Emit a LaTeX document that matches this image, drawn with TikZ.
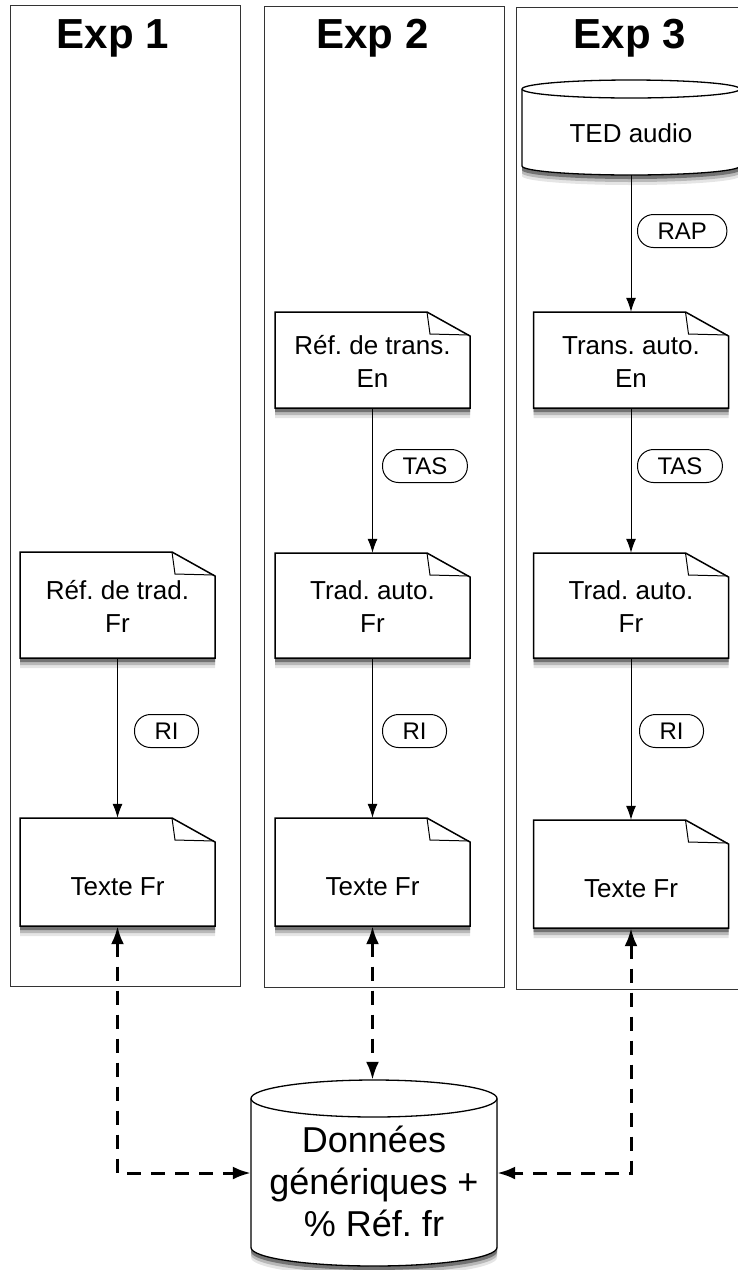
\documentclass[tikz,border=0pt]{standalone}
\usepackage{fontspec}
\setmainfont{Liberation Sans}
\usetikzlibrary{arrows.meta}

% page with a folded corner: x centre, y top, y bottom (pixels, y downwards)
\newcommand{\docpage}[3]{%
  \path[docbox] (#1-97.5,-#2) -- (#1+54.5,-#2) -- (#1+97.5,-#2-24) -- (#1+97.5,-#3) -- (#1-97.5,-#3) -- cycle;
  \draw[docfold] (#1+54.5,-#2) -- (#1+57.5,-#2-22) -- (#1+96.5,-#2-23);
}
% data store: x centre, y top, y bottom, x radius, y radius
\newcommand{\datastore}[5]{%
  \path[cylbox] (#1-#4,-#2-#5) -- (#1-#4,-#3+#5) arc[start angle=180,end angle=360,x radius=#4,y radius=#5] -- (#1+#4,-#2-#5) arc[start angle=0,end angle=180,x radius=#4,y radius=#5] -- cycle;
  \draw[cylline] (#1-#4,-#2-#5) arc[start angle=180,end angle=360,x radius=#4,y radius=#5];
}

\begin{document}
\frenchspacing
\begin{tikzpicture}[x=1pt,y=1pt]

\tikzstyle{docbox}=[draw=black, line width=1.5pt, fill=white,
  preaction={fill=black!10, transform canvas={yshift=-10pt}},
  preaction={fill=black!28, transform canvas={yshift=-7pt}},
  preaction={fill=black!55, transform canvas={yshift=-4pt}}]
\tikzstyle{docfold}=[draw=black, line width=1pt]
\tikzstyle{cylbox}=[draw=black, line width=1.3pt, fill=white,
  preaction={fill=black!10, transform canvas={yshift=-10pt}},
  preaction={fill=black!28, transform canvas={yshift=-7pt}},
  preaction={fill=black!55, transform canvas={yshift=-4pt}}]
\tikzstyle{cylline}=[draw=black, line width=1.3pt]
\tikzstyle{panel}=[draw=black!80, line width=1pt]
\tikzstyle{exptitle}=[anchor=base, font=\bfseries\fontsize{42}{50}\selectfont]
\tikzstyle{page}=[minimum width=195pt, inner sep=0pt, align=center, font=\fontsize{26}{33}\selectfont]
\tikzstyle{twolines}=[text height=58pt, text depth=4pt]
\tikzstyle{oneline}=[text height=50pt, text depth=4pt]
\tikzstyle{proc}=[draw, line width=1pt, rounded corners=16pt, minimum height=33pt, inner xsep=20pt, inner ysep=0pt, anchor=west, font=\fontsize{24}{28}\selectfont]

\tikzstyle{connect}=[-{Latex[length=14pt,width=10pt]}, line width=1pt]
\tikzstyle{exchange}=[{Latex[length=18pt,width=13pt]}-{Latex[length=18pt,width=13pt]}, line width=3pt, dash pattern=on 14pt off 10pt]

\useasboundingbox (0,0) rectangle (738,-1270);

% experiment panels
\draw[panel] (10,-5) rectangle (240,-986);
\draw[panel] (264,-6) rectangle (504,-987);
\draw[panel] (516,-7) rectangle (745,-989);

\node[exptitle] (t1) at (113,-48) {Exp 1};
\node[exptitle] (t2) at (372.5,-48) {Exp 2};
\node[exptitle] (t3) at (630,-48) {Exp 3};

% Exp 1
\docpage{117.5}{552}{658}
\node[page, twolines, minimum height=106pt] (reftrad1) at (117.5,-605) {Réf. de trad.\\Fr};
\docpage{117.5}{818}{926}
\node[page, oneline, minimum height=108pt] (texte1) at (117.5,-872) {Texte Fr};

% Exp 2
\docpage{372.5}{312}{408}
\node[page, twolines, minimum height=96pt] (reftrans2) at (372.5,-360) {Réf. de trans.\\En};
\docpage{372.5}{553}{658}
\node[page, twolines, minimum height=105pt] (trad2) at (372.5,-605.5) {Trad. auto.\\Fr};
\docpage{372.5}{818}{926}
\node[page, oneline, minimum height=108pt] (texte2) at (372.5,-872) {Texte Fr};

% Exp 3
\datastore{631}{80}{175}{109}{9}
\node[minimum width=218pt, minimum height=95pt, inner sep=0pt, text height=33pt, text depth=4pt, font=\fontsize{26}{33}\selectfont] (ted) at (631,-127.5) {TED audio};
\docpage{631}{312}{408}
\node[page, twolines, minimum height=96pt] (trans3) at (631,-360) {Trans. auto.\\En};
\docpage{631}{553}{658}
\node[page, twolines, minimum height=105pt] (trad3) at (631,-605.5) {Trad. auto.\\Fr};
\docpage{631}{820}{928}
\node[page, oneline, minimum height=108pt] (texte3) at (631,-874) {Texte Fr};

% generic data
\datastore{374}{1080}{1266}{123}{18.5}
\node[minimum width=246pt, minimum height=186pt, inner sep=0pt, align=center, text height=134pt, text depth=8pt, font=\fontsize{36}{42}\selectfont] (generic) at (374,-1173) {Données\\génériques +\\\% Réf. fr};

\path (reftrad1) [connect] edge (texte1);
\path (reftrans2) [connect] edge (trad2);
\path (trad2) [connect] edge (texte2);
\path (ted) [connect] edge (trans3);
\path (trans3) [connect] edge (trad3);
\path (trad3) [connect] edge (texte3);

\node[proc] (ri1) at (134,-731) {RI};
\node[proc] (tas2) at (382,-466) {TAS};
\node[proc] (ri2) at (382,-731) {RI};
\node[proc] (rap3) at (637,-231) {RAP};
\node[proc] (tas3) at (637,-466) {TAS};
\node[proc] (ri3) at (639,-731) {RI};

\draw[exchange] (texte1.south) |- (generic.west);
\draw[exchange] (texte2.south) -- (texte2.south |- generic.north);
\draw[exchange] (texte3.south) |- (generic.east);

\end{tikzpicture}
\end{document}
